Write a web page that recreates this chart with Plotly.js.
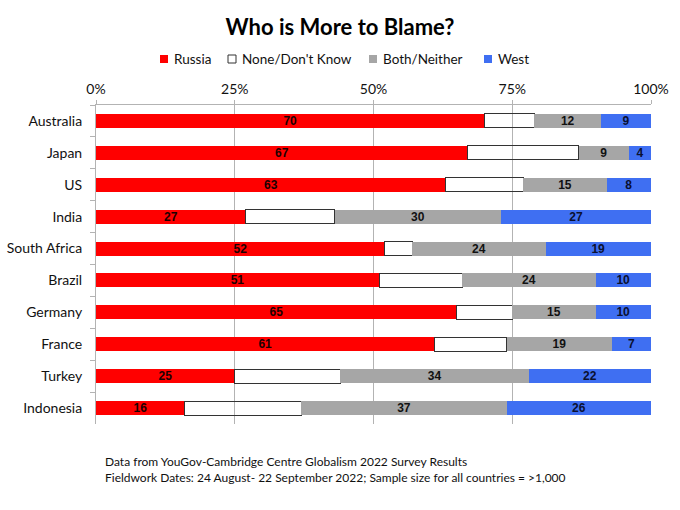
<!DOCTYPE html>
<html><head><meta charset="utf-8">
<script src="https://cdn.plot.ly/plotly-3.0.1.min.js"></script>
<style>html,body{margin:0;padding:0;background:#fff}#chart{width:680px;height:510px}</style>
</head><body><div id="chart"></div>
<script>
var countries = ["Australia","Japan","US","India","South Africa","Brazil","Germany","France","Turkey","Indonesia"];
var russia = [70,67,63,27,52,51,65,61,25,16];
var noneDK = [9,20,14,16,5,15,10,13,19,21];
var both = [12,9,15,30,24,24,15,19,34,37];
var west = [9,4,8,27,19,10,10,7,22,26];
var seriesNames = ["Russia","None/Don't Know","Both/Neither","West"];
var tickVals = [0,25,50,75,100];
var tickText = ["0%","25%","50%","75%","100%"];

var W = 680, H = 510, ML = 96, MR = 29, MT = 105, MB = 86;
var PW = W - ML - MR, PH = H - MT - MB;
function px2x(p){ return (p - ML) / PW; }
function py2y(p){ return (H - MB - p) / PH; }

var lblFamily = "Liberation Sans, Arial, sans-serif";
var colors = ["#ff0000", "rgba(255,255,255,0)", "#a6a6a6", "#3f6ff2"];
function tr(i, vals, line, showText, tcolor){
  return {
    type:"bar", orientation:"h", name:seriesNames[i], x:vals, y:countries,
    marker:{color:colors[i], line:line},
    width:0.44,
    text: showText ? vals.map(String) : null,
    textposition: showText ? "inside" : "none",
    insidetextanchor:"middle", textangle:0,
    textfont:{family:lblFamily, size:12, color:tcolor, weight:"bold"},
    constraintext:"none",
    hoverinfo:"x+name"
  };
}
var data = [
  tr(0, russia, {width:0}, true, "#1a0000"),
  tr(1, noneDK, {width:1, color:"#333"}, false),
  tr(2, both, {width:0}, true, "#111"),
  tr(3, west, {width:0}, true, "#0a1030")
];

// manual legend (compact, like the original)
var legSquareX = [160, 228, 369, 484];
var legFill = ["#ff0000", "#ffffff", "#a6a6a6", "#3f6ff2"];
var legY = 59, sq = 8;
var shapes = [], annotations = [];
seriesNames.forEach(function(n, i){
  shapes.push({type:"rect", xref:"paper", yref:"paper",
    x0:px2x(legSquareX[i]), x1:px2x(legSquareX[i]+sq), y0:py2y(legY+sq/2), y1:py2y(legY-sq/2),
    fillcolor:legFill[i], line:{width: i===1 ? 1 : 0, color:"#333"}});
  annotations.push({text:n, xref:"paper", yref:"paper", x:px2x(legSquareX[i]+sq+4), y:py2y(legY),
    xanchor:"left", yanchor:"middle", showarrow:false, font:{size:13.5, color:"#111"}});
});
annotations.push({text:"Data from YouGov-Cambridge Centre Globalism 2022 Survey Results<br>Fieldwork Dates: 24 August- 22 September 2022; Sample size for all countries = >1,000",
  xref:"paper", yref:"paper", x:px2x(103), y:py2y(452), xanchor:"left", yanchor:"top", align:"left",
  showarrow:false, font:{size:12, color:"#111"}});

var layout = {
  width:W, height:H, barmode:"stack",
  paper_bgcolor:"#fff", plot_bgcolor:"#fff",
  margin:{l:ML, r:MR, t:MT, b:MB},
  font:{family:"Lato, Open Sans, sans-serif", size:14, color:"#111"},
  title:{text:"<b>Who is More to Blame?</b>", font:{family:"Lato, sans-serif", size:22, color:"#000"},
         x:0.5, xref:"container", y:1-27/510, yref:"container", yanchor:"middle"},
  showlegend:false,
  xaxis:{side:"top", range:[0,100], tickvals:tickVals, ticktext:tickText, showgrid:true, gridcolor:"#b3b3b3", gridwidth:1,
         showline:true, linecolor:"#b3b3b3", ticks:"outside", ticklen:4, tickcolor:"#b3b3b3", zeroline:false,
         tickfont:{size:14}, fixedrange:true},
  yaxis:{autorange:"reversed", type:"category", showline:true, linecolor:"#b3b3b3", ticks:"outside", ticklen:5,
         tickcolor:"#b3b3b3", tickson:"boundaries", showgrid:false, tickfont:{size:14}, ticklabelstandoff:10},
  shapes:shapes,
  annotations:annotations
};
Plotly.newPlot("chart", data, layout, {displayModeBar:false});
</script></body></html>
